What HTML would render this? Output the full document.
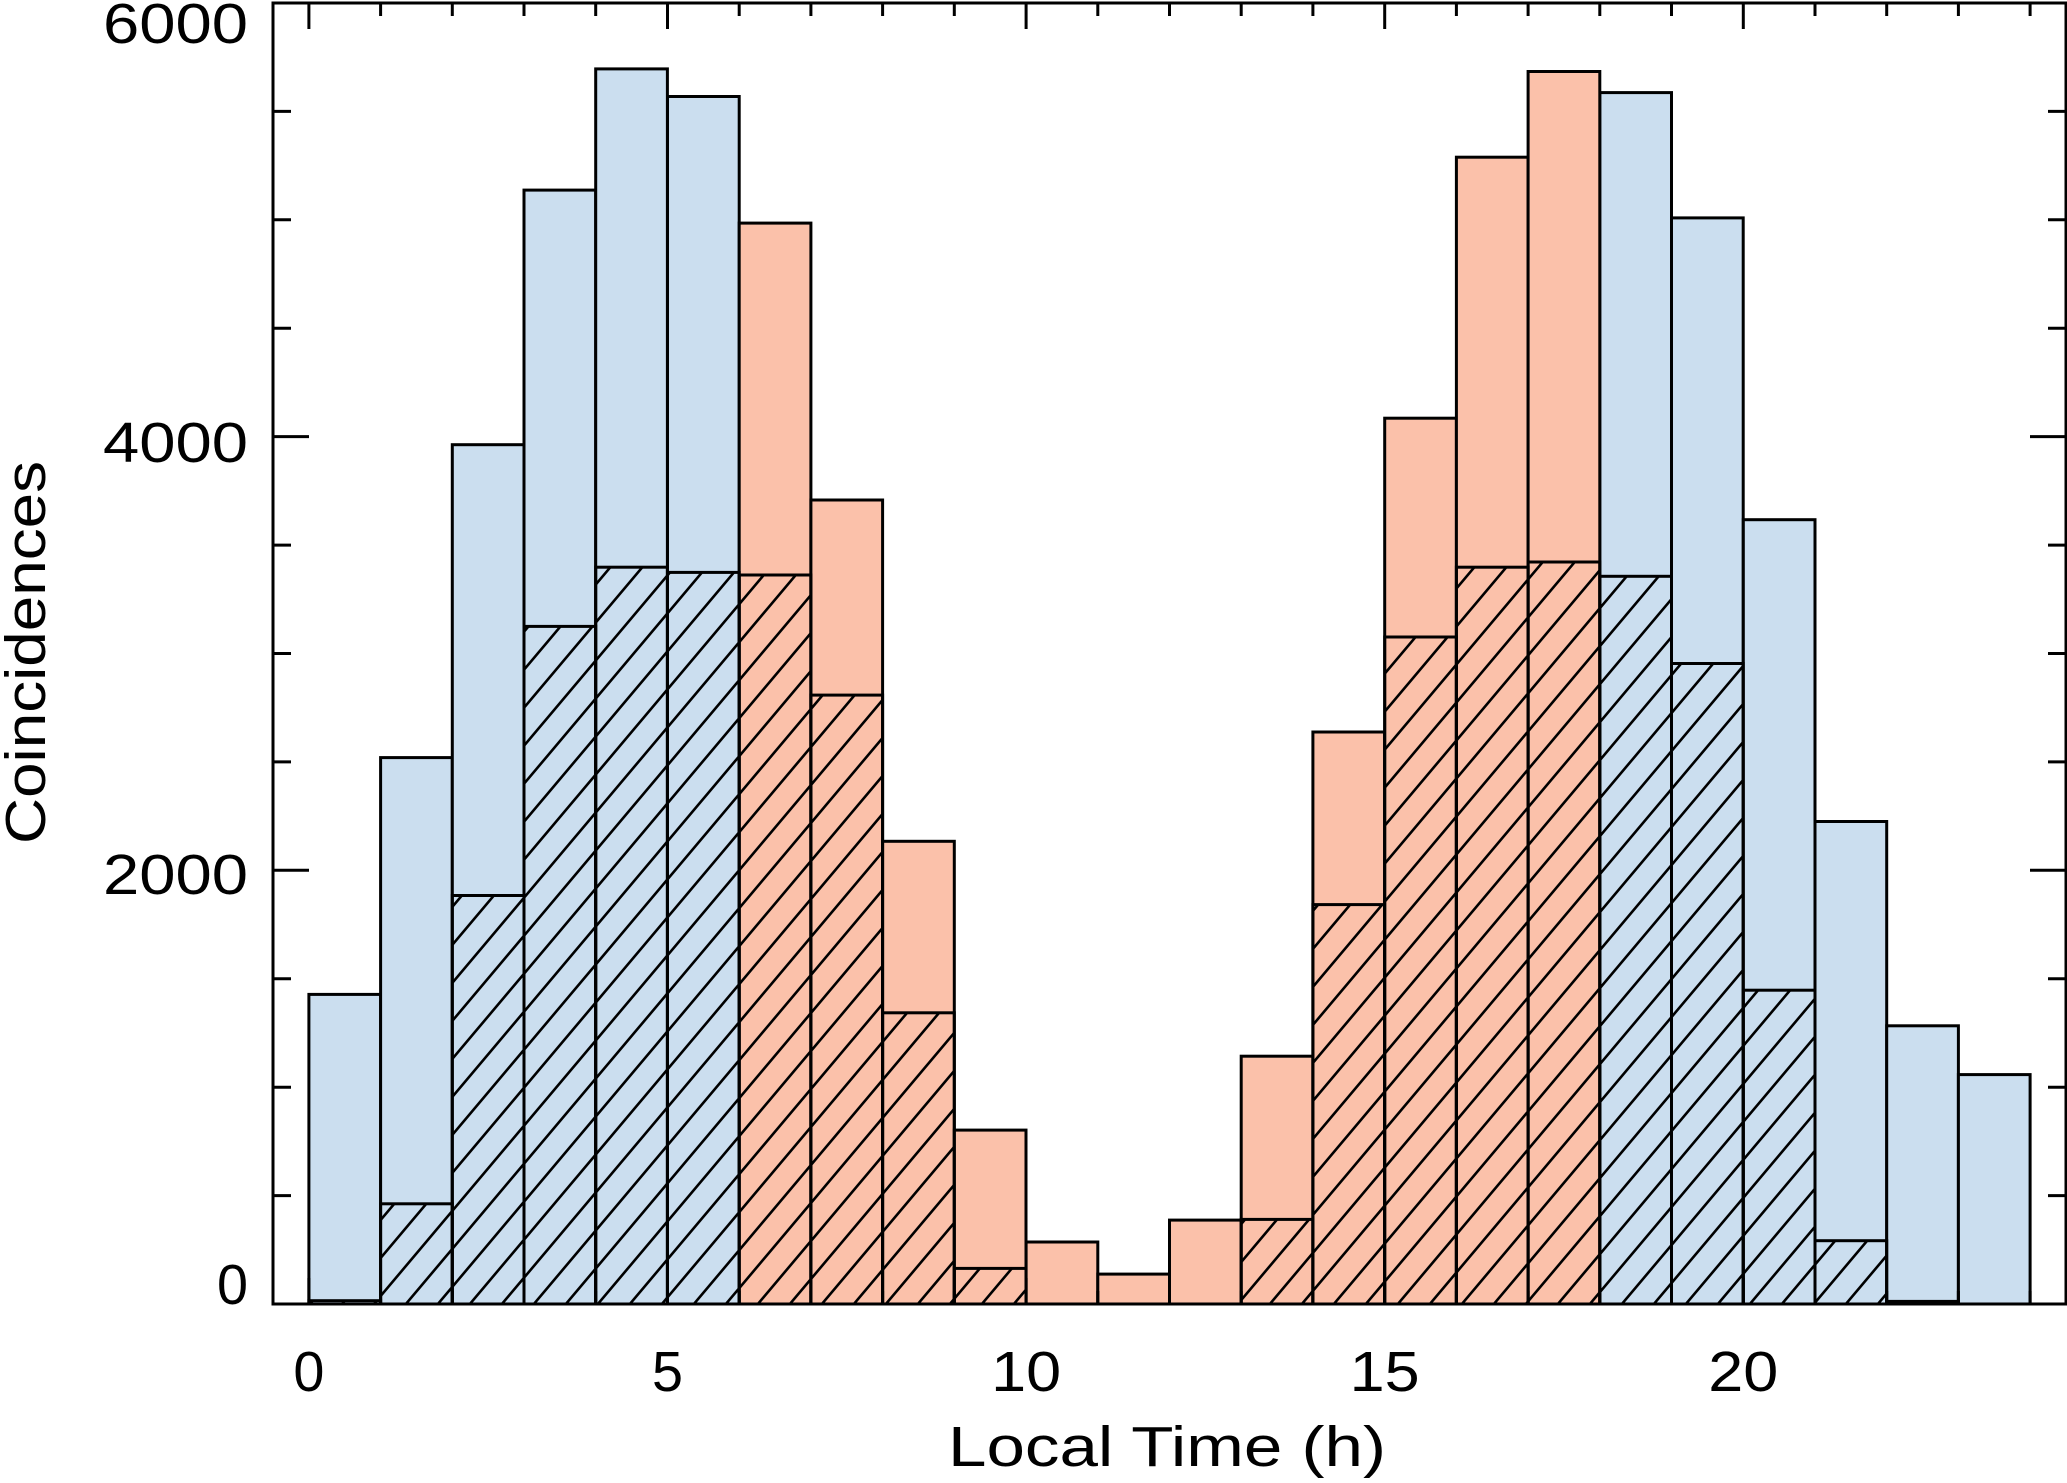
<!DOCTYPE html>
<html><head><meta charset="utf-8"><style>html,body{margin:0;padding:0;background:#fff}svg{display:block}</style></head>
<body>
<svg xmlns="http://www.w3.org/2000/svg" width="2067" height="1483" viewBox="0 0 2067 1483">
<defs>
<pattern id="h" patternUnits="userSpaceOnUse" width="32" height="38" x="0" y="0">
<path d="M-4 42.75L36 -4.75M-4 4.75L4 -4.75M28 42.75L36 33.25" stroke="#000" stroke-width="2.6"/>
</pattern>
</defs>
<g stroke="#000" stroke-width="3" fill="#cbdeef">
<rect x="308.9" y="994.4" width="71.7" height="309.6"/>
<rect x="380.6" y="757.6" width="71.7" height="546.4"/>
<rect x="452.3" y="444.7" width="71.7" height="859.3"/>
<rect x="524.0" y="190.1" width="71.7" height="1113.9"/>
<rect x="595.7" y="68.9" width="71.7" height="1235.1"/>
<rect x="667.5" y="96.5" width="71.7" height="1207.5"/>
<rect x="1599.8" y="92.6" width="71.7" height="1211.4"/>
<rect x="1671.5" y="217.9" width="71.7" height="1086.1"/>
<rect x="1743.3" y="519.7" width="71.7" height="784.3"/>
<rect x="1815.0" y="821.5" width="71.7" height="482.5"/>
<rect x="1886.7" y="1025.8" width="71.7" height="278.2"/>
<rect x="1958.4" y="1074.6" width="71.7" height="229.4"/>
</g>
<g stroke="#000" stroke-width="3" fill="#fbc1aa">
<rect x="739.2" y="223.1" width="71.7" height="1080.9"/>
<rect x="810.9" y="500.0" width="71.7" height="804.0"/>
<rect x="882.6" y="841.3" width="71.7" height="462.7"/>
<rect x="954.3" y="1130.1" width="71.7" height="173.9"/>
<rect x="1026.1" y="1242.0" width="71.7" height="62.0"/>
<rect x="1097.8" y="1274.1" width="71.7" height="29.9"/>
<rect x="1169.5" y="1220.1" width="71.7" height="83.9"/>
<rect x="1241.2" y="1056.2" width="71.7" height="247.8"/>
<rect x="1312.9" y="732.0" width="71.7" height="572.0"/>
<rect x="1384.7" y="418.2" width="71.7" height="885.8"/>
<rect x="1456.4" y="157.2" width="71.7" height="1146.8"/>
<rect x="1528.1" y="71.5" width="71.7" height="1232.5"/>
</g>
<g stroke="#000" stroke-width="3" fill="url(#h)">
<rect x="308.9" y="1300.7" width="71.7" height="3.3"/>
<rect x="380.6" y="1203.8" width="71.7" height="100.2"/>
<rect x="452.3" y="895.5" width="71.7" height="408.5"/>
<rect x="524.0" y="626.4" width="71.7" height="677.6"/>
<rect x="595.7" y="567.2" width="71.7" height="736.8"/>
<rect x="667.5" y="572.4" width="71.7" height="731.6"/>
<rect x="739.2" y="575.0" width="71.7" height="729.0"/>
<rect x="810.9" y="695.1" width="71.7" height="608.9"/>
<rect x="882.6" y="1012.8" width="71.7" height="291.2"/>
<rect x="954.3" y="1268.4" width="71.7" height="35.6"/>
<rect x="1241.2" y="1219.4" width="71.7" height="84.6"/>
<rect x="1312.9" y="904.6" width="71.7" height="399.4"/>
<rect x="1384.7" y="637.0" width="71.7" height="667.0"/>
<rect x="1456.4" y="567.2" width="71.7" height="736.8"/>
<rect x="1528.1" y="562.0" width="71.7" height="742.0"/>
<rect x="1599.8" y="576.3" width="71.7" height="727.7"/>
<rect x="1671.5" y="663.5" width="71.7" height="640.5"/>
<rect x="1743.3" y="990.2" width="71.7" height="313.8"/>
<rect x="1815.0" y="1240.7" width="71.7" height="63.3"/>
<rect x="1886.7" y="1301.4" width="71.7" height="2.6"/>
</g>
<g stroke="#000" stroke-width="3" fill="none">
<rect x="273" y="3" width="1793" height="1301"/>
<path d="M308.9 1304v-26M380.6 1304v-13M452.3 1304v-13M524.0 1304v-13M595.7 1304v-13M667.5 1304v-26M739.2 1304v-13M810.9 1304v-13M882.6 1304v-13M954.3 1304v-13M1026.1 1304v-26M1097.8 1304v-13M1169.5 1304v-13M1241.2 1304v-13M1312.9 1304v-13M1384.7 1304v-26M1456.4 1304v-13M1528.1 1304v-13M1599.8 1304v-13M1671.5 1304v-13M1743.3 1304v-26M1815.0 1304v-13M1886.7 1304v-13M1958.4 1304v-13M2030.1 1304v-13"/>
<path d="M308.9 3v26M380.6 3v13M452.3 3v13M524.0 3v13M595.7 3v13M667.5 3v26M739.2 3v13M810.9 3v13M882.6 3v13M954.3 3v13M1026.1 3v26M1097.8 3v13M1169.5 3v13M1241.2 3v13M1312.9 3v13M1384.7 3v26M1456.4 3v13M1528.1 3v13M1599.8 3v13M1671.5 3v13M1743.3 3v26M1815.0 3v13M1886.7 3v13M1958.4 3v13M2030.1 3v13"/>
<path d="M273 1195.6h18M273 1087.2h18M273 978.7h18M273 870.3h36M273 761.9h18M273 653.5h18M273 545.1h18M273 436.6h36M273 328.2h18M273 219.8h18M273 111.4h18"/>
<path d="M2066 1195.6h-18M2066 1087.2h-18M2066 978.7h-18M2066 870.3h-36M2066 761.9h-18M2066 653.5h-18M2066 545.1h-18M2066 436.6h-36M2066 328.2h-18M2066 219.8h-18M2066 111.4h-18"/>
</g>
<g font-family="Liberation Sans, sans-serif" font-size="57" fill="#000">
<text x="248" y="1304" text-anchor="end" textLength="31" lengthAdjust="spacingAndGlyphs">0</text>
<text x="248" y="894" text-anchor="end" textLength="145" lengthAdjust="spacingAndGlyphs">2000</text>
<text x="248" y="462" text-anchor="end" textLength="145" lengthAdjust="spacingAndGlyphs">4000</text>
<text x="248" y="43" text-anchor="end" textLength="145" lengthAdjust="spacingAndGlyphs">6000</text>
<text x="308.9" y="1391" text-anchor="middle" textLength="31" lengthAdjust="spacingAndGlyphs">0</text>
<text x="667.5" y="1391" text-anchor="middle" textLength="31" lengthAdjust="spacingAndGlyphs">5</text>
<text x="1026.1" y="1391" text-anchor="middle" textLength="70" lengthAdjust="spacingAndGlyphs">10</text>
<text x="1384.7" y="1391" text-anchor="middle" textLength="70" lengthAdjust="spacingAndGlyphs">15</text>
<text x="1743.3" y="1391" text-anchor="middle" textLength="70" lengthAdjust="spacingAndGlyphs">20</text>
<text x="948" y="1466" textLength="438" lengthAdjust="spacingAndGlyphs">Local Time (h)</text>
<text transform="translate(45,844) rotate(-90)" x="0" y="0" textLength="383" lengthAdjust="spacingAndGlyphs">Coincidences</text>
</g>
</svg>
</body></html>
